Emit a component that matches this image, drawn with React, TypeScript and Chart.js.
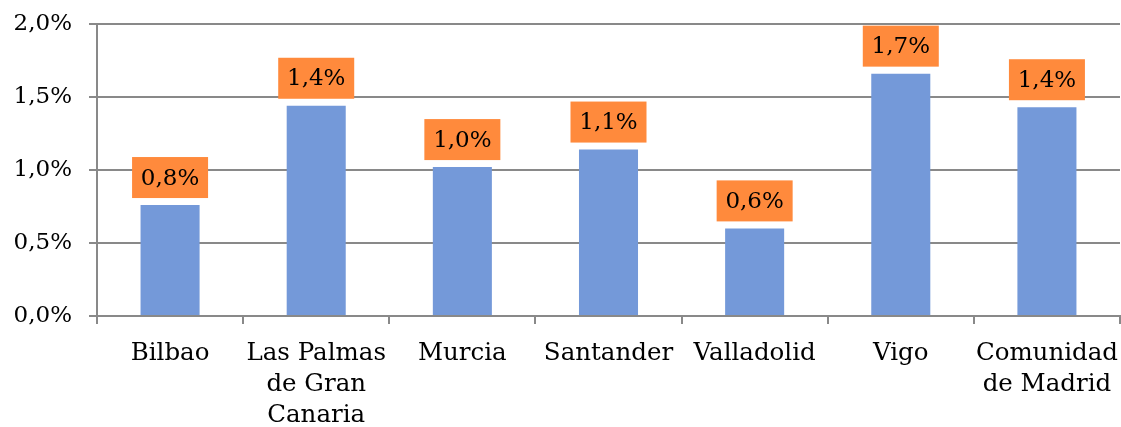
import React, { useEffect, useRef } from "react";
import { Chart, registerables } from "chart.js";

Chart.register(...registerables);

const categories: (string | string[])[] = [
  "Bilbao",
  ["Las Palmas", "de Gran", "Canaria"],
  "Murcia",
  "Santander",
  "Valladolid",
  "Vigo",
  ["Comunidad", "de Madrid"],
];
const values = [0.76, 1.44, 1.02, 1.14, 0.6, 1.66, 1.43];
const yMin = 0;
const yMax = 2;
const yStep = 0.5;

const fmt = (v: number) => v.toFixed(1).replace(".", ",") + "%";

const BAR = "#7499D9";
const BOX = "#FF8A3C";
const GRID = "#898989";
const SERIF = '"DejaVu Serif", serif';

const labelBoxes = {
  id: "labelBoxes",
  afterDatasetsDraw(chart: any) {
    const ctx = chart.ctx;
    const meta = chart.getDatasetMeta(0);
    ctx.save();
    meta.data.forEach((bar: any, i: number) => {
      const { x, y } = bar.getProps(["x", "y"], true);
      const w = 76;
      const h = 41;
      const bottom = y - 7;
      ctx.fillStyle = BOX;
      ctx.fillRect(x - w / 2, bottom - h, w, h);
      ctx.fillStyle = "#000";
      ctx.font = `23px ${SERIF}`;
      ctx.textAlign = "center";
      ctx.textBaseline = "middle";
      ctx.fillText(fmt(values[i]), x, bottom - h / 2 + 1);
    });
    ctx.restore();
  },
};

export default function App() {
  const ref = useRef<HTMLCanvasElement | null>(null);
  useEffect(() => {
    document.body.style.margin = "0";
    if (!ref.current) return;
    const chart = new Chart(ref.current, {
      type: "bar",
      data: {
        labels: categories,
        datasets: [
          {
            data: values,
            backgroundColor: BAR,
            borderWidth: 0,
            categoryPercentage: 1,
            barPercentage: 0.404,
          },
        ],
      },
      options: {
        animation: false,
        responsive: true,
        maintainAspectRatio: false,
        layout: { padding: { left: 0, top: 24, right: 1, bottom: 0 } },
        plugins: { legend: { display: false }, tooltip: { enabled: false } },
        scales: {
          x: {
            grid: {
              offset: true,
              drawOnChartArea: false,
              drawTicks: true,
              tickLength: 8,
              color: GRID,
              lineWidth: 2,
            },
            border: { display: true, color: GRID, width: 2 },
            ticks: {
              color: "#000",
              font: { family: SERIF, size: 24.5, lineHeight: 1.27 },
              padding: 14,
              maxRotation: 0,
              autoSkip: false,
            },
            afterFit: (s: any) => {
              s.height = 111;
              s.paddingLeft = 0;
              s.paddingRight = 0;
            },
          },
          y: {
            min: yMin,
            max: yMax,
            grid: { color: GRID, lineWidth: 2, tickLength: 8 },
            border: { display: true, color: GRID, width: 2 },
            ticks: {
              stepSize: yStep,
              color: "#000",
              font: { family: SERIF, size: 23 },
              padding: 17,
              callback: (v: any) => fmt(Number(v)),
            },
            afterFit: (s: any) => {
              s.width = 97;
              s.paddingTop = 0;
              s.paddingBottom = 0;
            },
          },
        },
      },
      plugins: [labelBoxes],
    });
    return () => chart.destroy();
  }, []);
  return (
    <div style={{ width: 1121, height: 427, position: "relative" }}>
      <canvas ref={ref} />
    </div>
  );
}
